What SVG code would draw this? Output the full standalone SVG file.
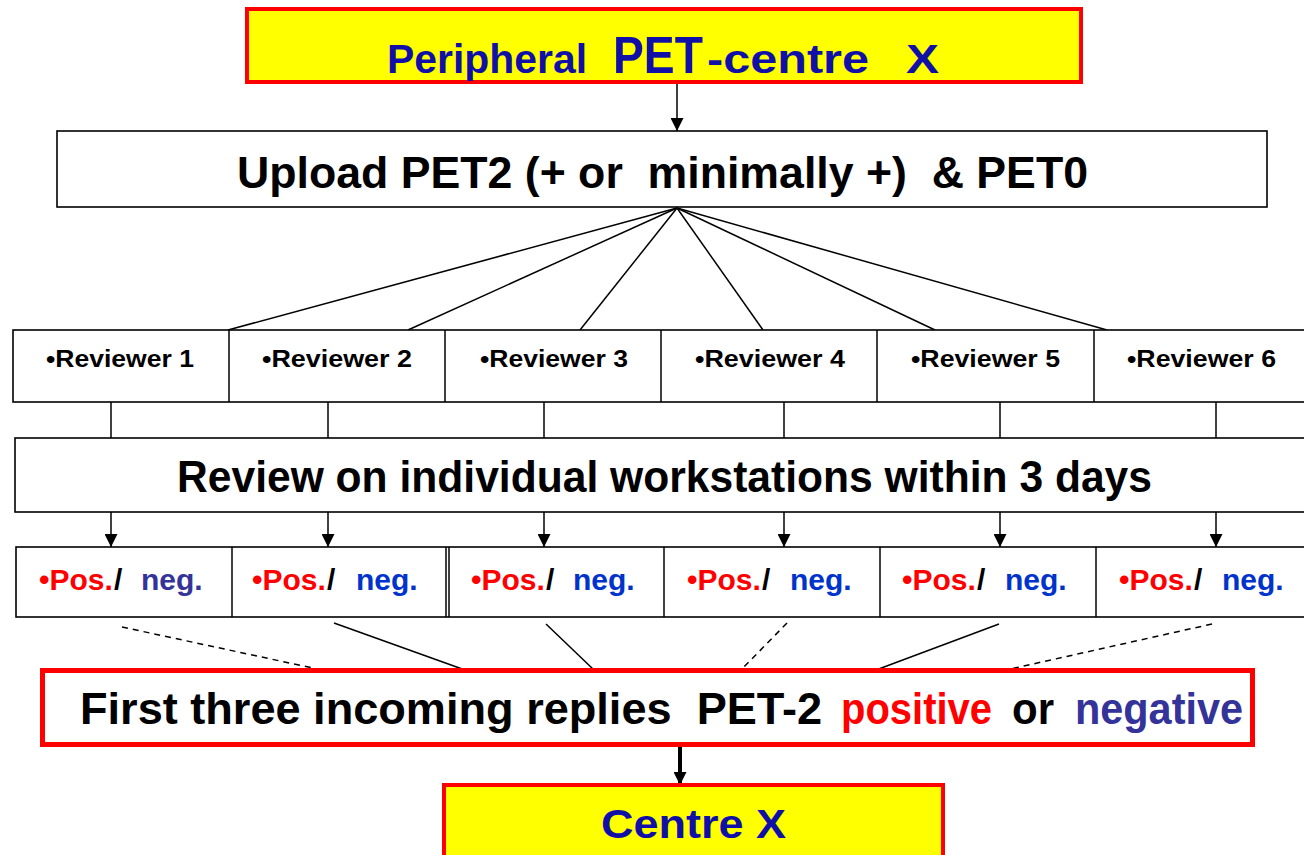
<svg xmlns="http://www.w3.org/2000/svg" width="1304" height="855" viewBox="0 0 1304 855">
  <style>
    text { font-family: "Liberation Sans", Arial, sans-serif; font-weight: bold; }
    .big { font-size: 44px; fill: #000; }
    .title { font-size: 40px; fill: #1010A8; }
    .title-lg { font-size: 52px; fill: #1010A8; }
    .rev { font-size: 24px; fill: #000; }
    .pn { font-size: 30px; }
    .box { fill: #fff; stroke: #000; stroke-width: 1.6; }
    .hot { fill: #FFFF00; stroke: #FF0000; stroke-width: 4; }
    .line { stroke: #000; stroke-width: 1.5; fill: none; }
    .dash { stroke: #000; stroke-width: 1.5; fill: none; stroke-dasharray: 6 5; }
    .pos { fill: #FF0000; }
    .neg { fill: #0033CC; }
    .negd { fill: #333399; }
  </style>
  <defs>
    <marker id="arrS" viewBox="0 0 10 10" refX="10" refY="5" markerWidth="13" markerHeight="13" markerUnits="userSpaceOnUse" orient="auto">
      <path d="M0,0 L10,5 L0,10 z" fill="#000"/>
    </marker>
  </defs>

  <!-- connectors -->
  <g id="connectors">
    <line class="line" x1="677" y1="44" x2="677" y2="131" marker-end="url(#arrS)"/>
    <line class="line" x1="677" y1="208" x2="228" y2="330"/>
    <line class="line" x1="677" y1="208" x2="408" y2="330"/>
    <line class="line" x1="677" y1="208" x2="580" y2="330"/>
    <line class="line" x1="677" y1="208" x2="763" y2="330"/>
    <line class="line" x1="677" y1="208" x2="935" y2="330"/>
    <line class="line" x1="677" y1="208" x2="1107" y2="330"/>
    <g class="line">
      <line x1="111" y1="402" x2="111" y2="438"/>
      <line x1="328" y1="402" x2="328" y2="438"/>
      <line x1="544" y1="402" x2="544" y2="438"/>
      <line x1="784" y1="402" x2="784" y2="438"/>
      <line x1="1000" y1="402" x2="1000" y2="438"/>
      <line x1="1216" y1="402" x2="1216" y2="438"/>
    </g>
    <line class="line" x1="111" y1="512" x2="111" y2="547" marker-end="url(#arrS)"/>
    <line class="line" x1="328" y1="512" x2="328" y2="547" marker-end="url(#arrS)"/>
    <line class="line" x1="544" y1="512" x2="544" y2="547" marker-end="url(#arrS)"/>
    <line class="line" x1="784" y1="512" x2="784" y2="547" marker-end="url(#arrS)"/>
    <line class="line" x1="1000" y1="512" x2="1000" y2="547" marker-end="url(#arrS)"/>
    <line class="line" x1="1216" y1="512" x2="1216" y2="547" marker-end="url(#arrS)"/>
    <line class="dash" x1="122" y1="627" x2="322" y2="670"/>
    <line class="line" x1="334" y1="623" x2="465" y2="670"/>
    <line class="line" x1="546" y1="624" x2="594" y2="670"/>
    <line class="dash" x1="787" y1="623" x2="741" y2="670"/>
    <line class="line" x1="999" y1="624" x2="876" y2="670"/>
    <line class="dash" x1="1212" y1="624" x2="1006" y2="670"/>
    <line x1="680" y1="747" x2="680" y2="785" stroke="#000" stroke-width="4" marker-end="url(#arrS)"/>
  </g>

  <!-- source centre -->
  <g id="peripheral">
    <rect class="hot" x="247" y="9" width="834" height="73"/>
    <text class="title" x="387" y="73" textLength="200" lengthAdjust="spacingAndGlyphs">Peripheral</text>
    <text class="title-lg" x="613" y="73" textLength="90" lengthAdjust="spacingAndGlyphs">PET</text>
    <text class="title" x="707" y="73" textLength="162" lengthAdjust="spacingAndGlyphs">-centre</text>
    <text class="title" x="906" y="73" textLength="33" lengthAdjust="spacingAndGlyphs">X</text>
  </g>

  <g id="upload">
    <rect class="box" x="57" y="131" width="1210" height="76"/>
    <text class="big" x="237" y="188" xml:space="preserve" textLength="851" lengthAdjust="spacingAndGlyphs">Upload PET2 (+ or  minimally +)  &amp; PET0</text>
  </g>

  <!-- reviewers -->
  <g id="reviewers">
    <rect class="box" x="13" y="330" width="1300" height="72"/>
    <g class="line">
      <line x1="229" y1="330" x2="229" y2="402"/>
      <line x1="445" y1="330" x2="445" y2="402"/>
      <line x1="661" y1="330" x2="661" y2="402"/>
      <line x1="877" y1="330" x2="877" y2="402"/>
      <line x1="1094" y1="330" x2="1094" y2="402"/>
    </g>
    <text class="rev" x="46" y="367" textLength="148" lengthAdjust="spacingAndGlyphs">•Reviewer 1</text>
    <text class="rev" x="262" y="367" textLength="150" lengthAdjust="spacingAndGlyphs">•Reviewer 2</text>
    <text class="rev" x="480" y="367" textLength="148" lengthAdjust="spacingAndGlyphs">•Reviewer 3</text>
    <text class="rev" x="695" y="367" textLength="150" lengthAdjust="spacingAndGlyphs">•Reviewer 4</text>
    <text class="rev" x="911" y="367" textLength="149" lengthAdjust="spacingAndGlyphs">•Reviewer 5</text>
    <text class="rev" x="1127" y="367" textLength="149" lengthAdjust="spacingAndGlyphs">•Reviewer 6</text>
  </g>

  <g id="review">
    <rect class="box" x="15" y="438" width="1300" height="74"/>
    <text class="big" x="177" y="492" textLength="975" lengthAdjust="spacingAndGlyphs">Review on individual workstations within 3 days</text>
  </g>

  <!-- verdicts -->
  <g id="verdicts">
    <rect class="box" x="16" y="547" width="1300" height="70"/>
    <g class="line">
      <line x1="232" y1="547" x2="232" y2="617"/>
      <line x1="446" y1="547" x2="446" y2="617"/>
      <line x1="449" y1="547" x2="449" y2="617"/>
      <line x1="664" y1="547" x2="664" y2="617"/>
      <line x1="880" y1="547" x2="880" y2="617"/>
      <line x1="1096" y1="547" x2="1096" y2="617"/>
    </g>
    <text class="pn" y="590"><tspan class="pos" x="39">•Pos.</tspan><tspan x="114">/</tspan><tspan class="negd" x="141">neg.</tspan></text>
    <text class="pn" y="590"><tspan class="pos" x="252">•Pos.</tspan><tspan x="327">/</tspan><tspan class="neg" x="356">neg.</tspan></text>
    <text class="pn" y="590"><tspan class="pos" x="471">•Pos.</tspan><tspan x="546">/</tspan><tspan class="neg" x="573">neg.</tspan></text>
    <text class="pn" y="590"><tspan class="pos" x="687">•Pos.</tspan><tspan x="762">/</tspan><tspan class="neg" x="790">neg.</tspan></text>
    <text class="pn" y="590"><tspan class="pos" x="902">•Pos.</tspan><tspan x="977">/</tspan><tspan class="neg" x="1005">neg.</tspan></text>
    <text class="pn" y="590"><tspan class="pos" x="1119">•Pos.</tspan><tspan x="1194">/</tspan><tspan class="neg" x="1222">neg.</tspan></text>
  </g>

  <g id="first-three">
    <rect x="42.5" y="670.5" width="1210" height="74" fill="#fff" stroke="#FF0000" stroke-width="5"/>
    <text class="big" x="80" y="724" textLength="742" lengthAdjust="spacingAndGlyphs" xml:space="preserve">First three incoming replies  PET-2</text>
    <text class="big pos" x="841" y="724" textLength="151" lengthAdjust="spacingAndGlyphs">positive</text>
    <text class="big" x="1012" y="724" textLength="42" lengthAdjust="spacingAndGlyphs">or</text>
    <text class="big negd" x="1075" y="724" textLength="168" lengthAdjust="spacingAndGlyphs">negative</text>
  </g>

  <g id="centre-x">
    <rect class="hot" x="444" y="785" width="499" height="80"/>
    <text class="title" x="601" y="838" textLength="185" lengthAdjust="spacingAndGlyphs">Centre X</text>
  </g>
</svg>
